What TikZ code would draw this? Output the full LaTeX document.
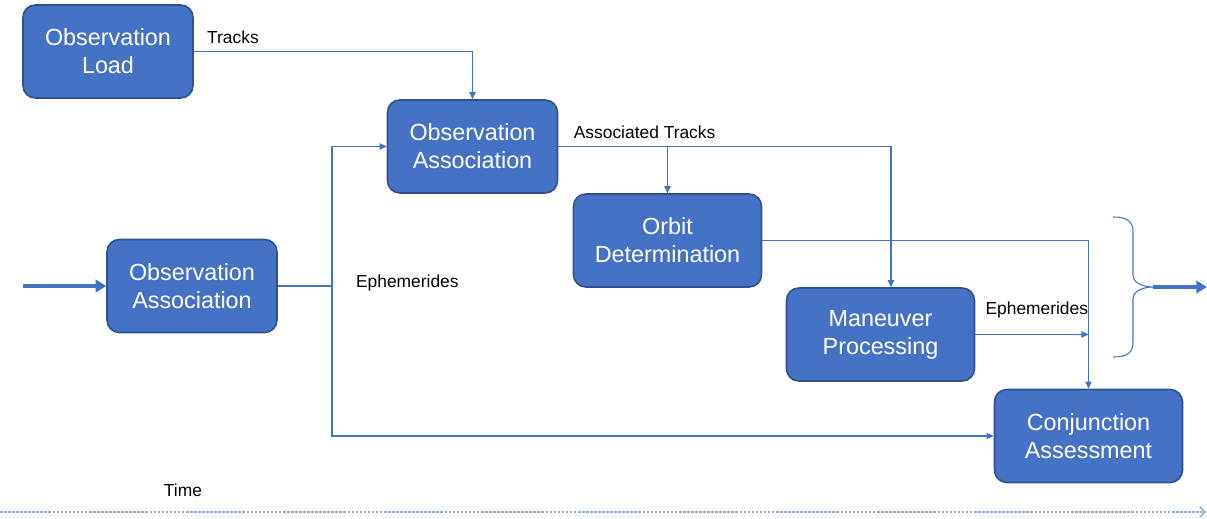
\documentclass[tikz,border=0pt]{standalone}
\usepackage{fontspec}
\setmainfont{Liberation Sans}
\usetikzlibrary{positioning,arrows.meta}
\definecolor{boxfill}{HTML}{4472C4}
\definecolor{boxline}{HTML}{2F528F}
\definecolor{flowline}{HTML}{4472C4}
\definecolor{timeline}{HTML}{8FAADC}

\begin{document}
\begin{tikzpicture}[x=0.02cm,y=-0.02cm]
  \useasboundingbox (0,0) rectangle (1207,519);
  \begin{scope}[
    every node/.style={
      rectangle,
      draw=boxline,
      line width=0.9pt,
      fill=boxfill,
      text=white,
      rounded corners=7pt,
      minimum width=3.4cm,
      minimum height=1.86cm,
      align=center,
      font=\fontsize{13.3}{15.9}\selectfont,
    },
    wide/.style={
      minimum width=3.76cm,
    },
    ]
    % Observation Load
    \node (load) at (108,51.5) {Observation\\Load};

    % Observation Association (top)
    \node (assoc) at (472.5,146.5) {Observation\\Association};

    % Orbit Determination
    \node [wide] (orbit) at (667.5,240.5) {Orbit\\Determination};

    % Maneuver Processing
    \node [wide] (maneuver) at (880.5,334.5) {Maneuver\\Processing};

    % Conjunction Assessment
    \node [wide] (conj) at (1088.5,436) {Conjunction\\Assessment};

    % Observation Association (left)
    \node (leftassoc) at (192,286) {Observation\\Association};
  \end{scope}
  \begin{scope}[
    myarrow/.style={
      draw=flowline,
      line width=0.6pt,
      -{Triangle[length=4pt,width=3.6pt]},
    },
    bigarrow/.style={
      draw=flowline,
      line width=2.3pt,
      -{Triangle[length=6pt,width=7pt]},
    },
    lbl/.style={
      font=\fontsize{9.9}{12}\selectfont,
      text=black,
      inner sep=1pt,
    },
    ]
    \coordinate (input) at (23,286);
    \coordinate (split) at (332,286);
    \coordinate (mantop) at ([xshift=0.21cm]maneuver.north);
    \coordinate (bracetop) at (1113,217);
    \coordinate (bracebot) at (1113,357);
    \coordinate (bracetip) at (1153,287);
    \coordinate (output) at (1207,287);
    \coordinate (tstart) at (0,512);
    \coordinate (tend) at (1206,512);

    % Path Observation Load
    \draw [myarrow] (load.east) -| node [lbl,above right,pos=0.02,yshift=3pt] {Tracks} (assoc.north);

    % Path input
    \draw [bigarrow] (input) -- (leftassoc.west);
    \draw [myarrow,-] (leftassoc.east) -- (split);
    \draw [myarrow] (split) |- (assoc.west);
    \draw [myarrow] (split) |- (conj.west);
    \node [lbl,right=0.44cm of split,yshift=0.06cm] (eph1) {Ephemerides};

    % Path Observation Association
    \draw [myarrow] (assoc.east) -| node [lbl,above right,pos=0.02,yshift=3pt] {Associated Tracks} (mantop);
    \draw [myarrow] (assoc.east -| orbit.north) -- (orbit.north);

    % Path Orbit Determination
    \draw [myarrow] (orbit.east) -| (conj.north);

    % Path Maneuver Processing
    \draw [myarrow] (maneuver.east) -- node [lbl,above right,pos=0,xshift=0.16cm,yshift=8pt] {Ephemerides} (maneuver.east -| conj.north);

    % Brace and output
    \draw [draw=flowline,line width=0.6pt]
      (bracetop) .. controls (1128,217) and (1133,222) .. (1133,232)
      -- (1133,275) .. controls (1133,284) and (1145,287) .. (bracetip)
      .. controls (1145,287) and (1133,290) .. (1133,299)
      -- (1133,342) .. controls (1133,352) and (1128,357) .. (bracebot);
    \draw [bigarrow] (bracetip) -- (output);

    % Time
    \node [lbl] (timelbl) at (183,490) {Time};
    \draw [draw=timeline,line width=0.8pt,dash pattern=on 1.5pt off 0.8pt,-{Straight Barb[length=3pt,width=6pt]}]
      (tstart) -- (tend);
  \end{scope}
\end{tikzpicture}
\end{document}
